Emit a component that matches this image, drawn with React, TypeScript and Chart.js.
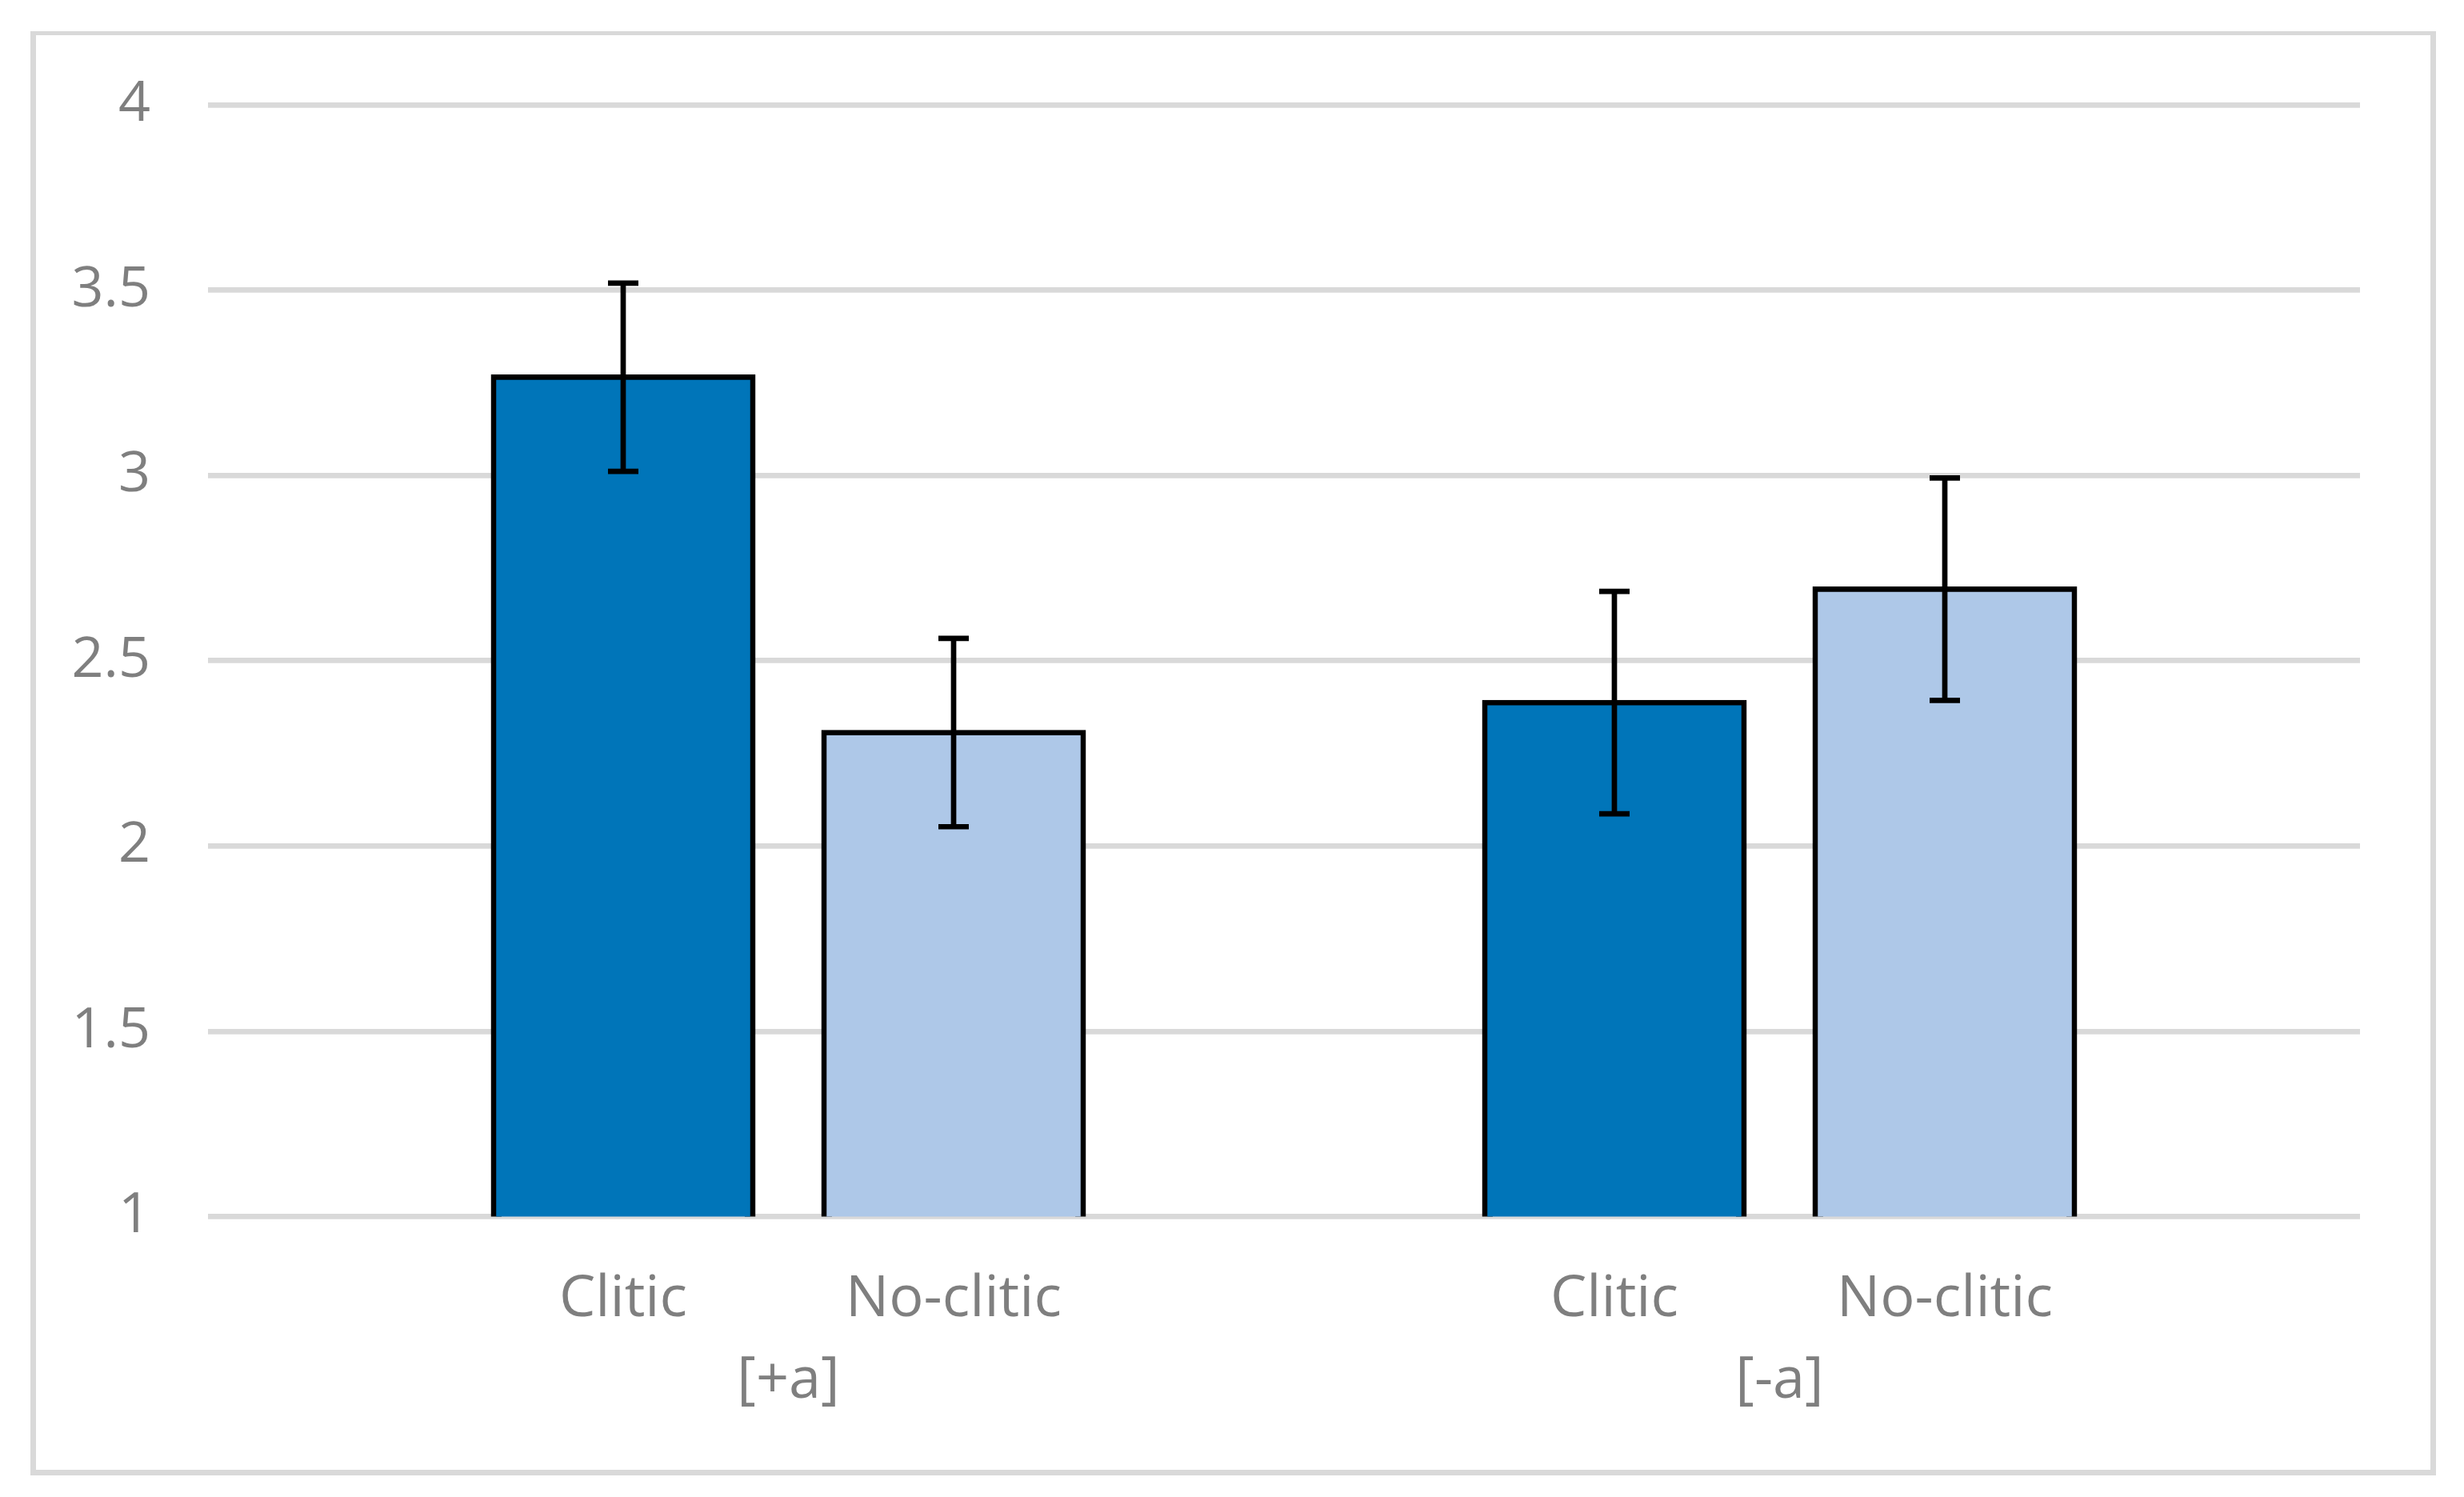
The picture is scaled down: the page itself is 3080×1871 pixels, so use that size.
import React, { useEffect, useRef } from "react";
import { Chart, registerables } from "chart.js";

Chart.register(...registerables);

// ---- data ----
const categories = ["[+a]", "[-a]"];
const seriesNames = ["Clitic", "No-clitic"];
const cliticMeans = [3.265, 2.387];
const cliticErrors = [0.254, 0.3];
const noCliticMeans = [2.306, 2.693];
const noCliticErrors = [0.254, 0.3];
const yTickValues = [1, 1.5, 2, 2.5, 3, 3.5, 4];

// ---- styles ----
const TEXT = "#7f7f7f";
const GRID = "#d9d9d9";
const FONT = "'Open Sans', sans-serif";
const DARK = "#0075b9";
const LIGHT = "#aec8e8";
const LINE = 6.7;

const errorBarPlugin = {
  id: "errorBars",
  afterDatasetsDraw(chart: any) {
    const ctx = chart.ctx;
    const y = chart.scales.y;
    chart.data.datasets.forEach((ds: any, i: number) => {
      const meta = chart.getDatasetMeta(i);
      meta.data.forEach((bar: any, j: number) => {
        const v = ds.data[j];
        const e = ds.errors[j];
        const top = y.getPixelForValue(v + e);
        const bot = y.getPixelForValue(v - e);
        ctx.save();
        ctx.strokeStyle = "#000";
        ctx.lineWidth = LINE;
        ctx.lineCap = "butt";
        ctx.beginPath();
        ctx.moveTo(bar.x, top);
        ctx.lineTo(bar.x, bot);
        ctx.moveTo(bar.x - 19, top);
        ctx.lineTo(bar.x + 19, top);
        ctx.moveTo(bar.x - 19, bot);
        ctx.lineTo(bar.x + 19, bot);
        ctx.stroke();
        ctx.restore();
      });
    });
  },
};

const seriesLabelPlugin = {
  id: "seriesLabels",
  afterDraw(chart: any) {
    const ctx = chart.ctx;
    const xs = chart.scales.x;
    ctx.save();
    ctx.font = `72px ${FONT}`;
    ctx.fillStyle = TEXT;
    ctx.textAlign = "center";
    ctx.textBaseline = "alphabetic";
    chart.data.datasets.forEach((ds: any, i: number) => {
      const meta = chart.getDatasetMeta(i);
      meta.data.forEach((bar: any) => {
        ctx.fillText(ds.label, bar.x, xs.top + 124.5);
      });
    });
    ctx.restore();
  },
};

const setYTicks = (scale: any) => {
  scale.ticks = yTickValues.map((v) => ({ value: v }));
};

export default function App() {
  const canvasRef = useRef<HTMLCanvasElement | null>(null);

  useEffect(() => {
    const canvas = canvasRef.current;
    if (!canvas) return;
    const chart = new Chart(canvas, {
      type: "bar",
      data: {
        labels: categories,
        datasets: [
          {
            label: seriesNames[0],
            data: cliticMeans,
            errors: cliticErrors,
            backgroundColor: DARK,
            borderColor: "#000",
            borderWidth: LINE,
            borderSkipped: false,
            inflateAmount: LINE / 2,
            categoryPercentage: 0.6667,
            barPercentage: 0.785,
          } as any,
          {
            label: seriesNames[1],
            data: noCliticMeans,
            errors: noCliticErrors,
            backgroundColor: LIGHT,
            borderColor: "#000",
            borderWidth: LINE,
            borderSkipped: false,
            inflateAmount: LINE / 2,
            categoryPercentage: 0.6667,
            barPercentage: 0.785,
          } as any,
        ],
      },
      options: {
        animation: false,
        responsive: false,
        devicePixelRatio: 1,
        layout: { padding: { top: 131, left: 0, right: 130, bottom: 0 } },
        plugins: {
          legend: { display: false },
          tooltip: { enabled: false },
        },
        scales: {
          x: {
            type: "category",
            offset: true,
            grid: { display: false },
            border: { display: false },
            ticks: {
              color: TEXT,
              font: { family: FONT, size: 72, lineHeight: 1.2 },
              padding: 155,
              maxRotation: 0,
              autoSkip: false,
            },
            afterFit: (s: any) => {
              s.height = 350.5;
            },
          },
          y: {
            type: "linear",
            position: "left",
            min: 1,
            max: 4,
            afterBuildTicks: setYTicks,
            border: { display: false },
            grid: {
              color: GRID,
              lineWidth: LINE,
              tickLength: 106,
              tickColor: GRID,
              drawTicks: true,
            },
            ticks: {
              color: TEXT,
              font: { family: FONT, size: 70 },
              padding: 72,
              callback: (v: any) => String(Number(v)),
            },
            afterFit: (s: any) => {
              s.width = 366;
            },
          },
          y2: {
            type: "linear",
            position: "right",
            min: 1,
            max: 4,
            afterBuildTicks: setYTicks,
            border: { display: false },
            grid: {
              color: GRID,
              lineWidth: LINE,
              tickLength: 106,
              tickColor: GRID,
              drawTicks: true,
              drawOnChartArea: false,
            },
            ticks: { display: false },
            afterFit: (s: any) => {
              s.width = 106;
            },
          },
        },
      } as any,
      plugins: [errorBarPlugin, seriesLabelPlugin],
    });
    return () => chart.destroy();
  }, []);

  return (
    <div
      style={{
        position: "fixed",
        left: 0,
        top: 0,
        width: 3080,
        height: 1871,
        background: "#fff",
        overflow: "hidden",
      }}
    >
      <canvas
        ref={canvasRef}
        width={3080}
        height={1871}
        style={{ position: "absolute", left: 0, top: 0, width: 3080, height: 1871 }}
      />
      <div
        style={{
          position: "absolute",
          left: 38,
          top: 39,
          width: 3007,
          height: 1805,
          boxSizing: "border-box",
          borderStyle: "solid",
          borderColor: GRID,
          borderWidth: "5px 7px 7px 7px",
          pointerEvents: "none",
        }}
      />
    </div>
  );
}
